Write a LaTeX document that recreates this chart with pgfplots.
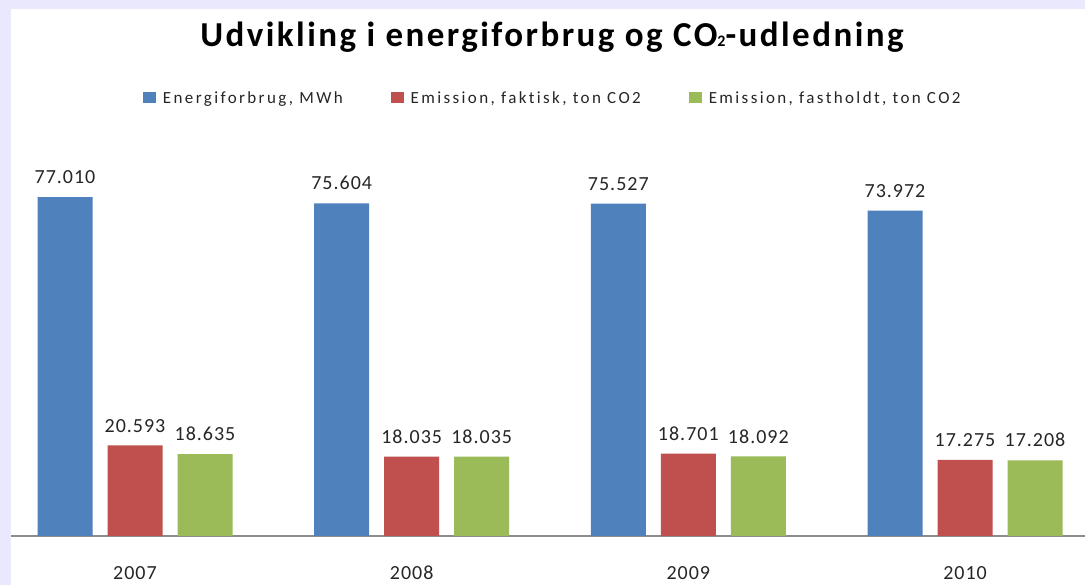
\documentclass[border=0pt]{standalone}
\usepackage{fontspec}
\setmainfont{Carlito}
\newfontfamily\labfont[LetterSpace=5]{Carlito}
\newfontfamily\legfont[LetterSpace=14, Ligatures={NoCommon}]{Carlito}
\newfontfamily\titlefont[LetterSpace=7]{Carlito}
\usepackage{pgfplots}
\pgfplotsset{compat=1.18}
\definecolor{cblue}{HTML}{4F81BD}
\definecolor{cred}{HTML}{C0504D}
\definecolor{cgreen}{HTML}{9BBB59}
\definecolor{bglav}{HTML}{EAE8FC}
\definecolor{axgrey}{HTML}{8C8C8C}
\begin{document}
\begin{tikzpicture}
\path[use as bounding box] (0pt,0pt) rectangle (1085pt,585pt);
\fill[bglav] (0pt,0pt) rectangle (1085pt,585pt);
\fill[white] (11pt,0pt) rectangle (1085pt,576pt);
\node[anchor=base, inner sep=0pt] at (552pt,538.3pt) {\titlefont\bfseries\fontsize{35}{40}\selectfont Udvikling i energiforbrug og CO{\fontsize{16}{16}\selectfont 2}-udledning};
\begin{axis}[
  at={(11pt,49pt)}, anchor=south west,
  scale only axis, width=1074pt, height=396pt,
  xmin=-0.4482, xmax=3.4337, ymin=0, ymax=90000,
  axis x line=bottom, axis y line=none,
  x axis line style={-, draw=axgrey, line width=1.2pt},
  major tick length=0pt,
  xtick={0,1,2,3}, xticklabels={2007,2008,2009,2010},
  xticklabel style={font=\labfont\fontsize{20}{24}\selectfont, anchor=base, inner sep=0pt, yshift=-44pt, text=black!85},
  ybar=15pt, bar width=55pt,
  nodes near coords,
  every node near coord/.append style={font=\labfont\fontsize{20}{24}\selectfont, anchor=south, inner sep=0pt, yshift=13pt, text=black!85},
  /pgf/number format/.cd, fixed, precision=0, 1000 sep={.}, assume math mode=true, /pgfplots/.cd,
  legend columns=3,
  legend style={at={(0.1229,1.106)}, anchor=west, draw=none, fill=none, inner sep=0pt, outer sep=0pt,
    font=\legfont\fontsize{17}{20}\selectfont, text=black!85,
    nodes={inner sep=0pt},
    /tikz/every even column/.append style={column sep=48pt}},
  legend image code/.code={\fill[#1] (0pt,-5pt) rectangle (13pt,6pt); \path (20pt,0pt);},
]
\addplot[fill=cblue, draw=none] coordinates {(0,77010) (1,75604) (2,75527) (3,73972)};
\addplot[fill=cred, draw=none] coordinates {(0,20593) (1,18035) (2,18701) (3,17275)};
\addplot[fill=cgreen, draw=none] coordinates {(0,18635) (1,18035) (2,18092) (3,17208)};
\legend{{Energiforbrug, MWh}, {Emission, faktisk, ton CO2}, {Emission, fastholdt, ton CO2}}
\end{axis}
\end{tikzpicture}
\end{document}
